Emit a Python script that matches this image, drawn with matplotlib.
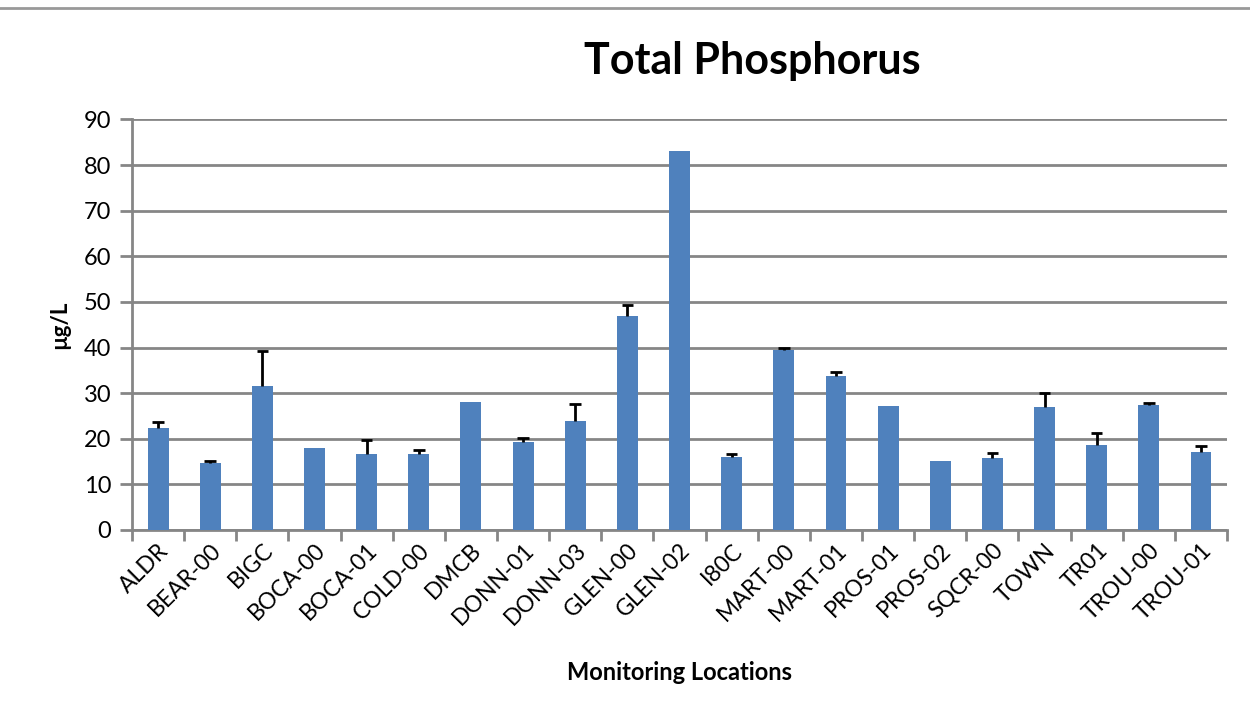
import numpy as np
import matplotlib
matplotlib.use("Agg")
import matplotlib.pyplot as plt
from matplotlib.lines import Line2D

sites = ["ALDR", "BEAR-00", "BIGC", "BOCA-00", "BOCA-01", "COLD-00", "DMCB",
         "DONN-01", "DONN-03", "GLEN-00", "GLEN-02", "I80C", "MART-00", "MART-01",
         "PROS-01", "PROS-02", "SQCR-00", "TOWN", "TR01", "TROU-00", "TROU-01"]
tp = [22.4, 14.7, 31.5, 18.0, 16.7, 16.7, 28.0,
      19.2, 23.9, 47.0, 83.0, 16.0, 39.4, 33.7,
      27.1, 15.1, 15.7, 26.9, 18.6, 27.3, 17.1]
# upper error only (0 = no error bar)
tp_err = [1.3, 0.5, 7.8, 0.0, 3.0, 0.8, 0.0,
          1.0, 3.7, 2.3, 0.0, 0.7, 0.6, 1.0,
          0.0, 0.0, 1.1, 3.1, 2.7, 0.5, 1.4]

plt.rcParams['font.family'] = ['Lato', 'DejaVu Sans']

fig = plt.figure(figsize=(12.5, 7.13), dpi=100)
ax = fig.add_axes([0.1056, 0.2567, 0.876, 0.5757])

x = np.arange(len(sites))
tp_a = np.array(tp)
err_a = np.array(tp_err)
ax.bar(x, tp_a, width=0.4, color='#4f81bd', zorder=3)

# upper-only error bars, drawn as stem + cap
m = err_a > 0
ax.vlines(x[m], tp_a[m], tp_a[m] + err_a[m], color='black', linewidth=2, zorder=4)
ax.hlines(tp_a[m] + err_a[m], x[m] - 0.11, x[m] + 0.11, color='black', linewidth=2, zorder=4)

ax.set_xlim(-0.5, len(sites) - 0.5)
ax.set_ylim(0, 90)
ax.set_yticks(range(0, 91, 10))
ax.yaxis.grid(True, color='#868686', linewidth=2)
ax.set_axisbelow(True)

for s in ['top', 'right']:
    ax.spines[s].set_visible(False)
ax.spines['left'].set_color('#868686')
ax.spines['left'].set_linewidth(2)
ax.spines['bottom'].set_color('#868686')
ax.spines['bottom'].set_linewidth(2)

ax.set_xticks(x)
ax.set_xticklabels(sites, rotation=45, ha='right', va='top', rotation_mode='anchor',
                   fontsize=16.5)
ax.tick_params(axis='x', length=0, pad=7)
ax.set_xticks(np.arange(-0.5, len(sites)), minor=True)
ax.tick_params(axis='x', which='minor', length=8, width=2, color='#868686')
ax.tick_params(axis='y', length=9, width=2, color='#868686', labelsize=17, pad=6)

ax.set_ylabel('µg/L', fontsize=16, fontweight='bold', labelpad=10)
ax.set_xlabel('Monitoring Locations', fontsize=17, fontweight='bold', labelpad=23)
fig.text(0.6016, 0.915, 'Total Phosphorus', fontsize=31, fontweight='bold',
         ha='center', va='center')

fig.add_artist(Line2D([0, 1], [0.989, 0.989], color='#999999', linewidth=2,
                      transform=fig.transFigure))

fig.savefig('out.png', dpi=100)
